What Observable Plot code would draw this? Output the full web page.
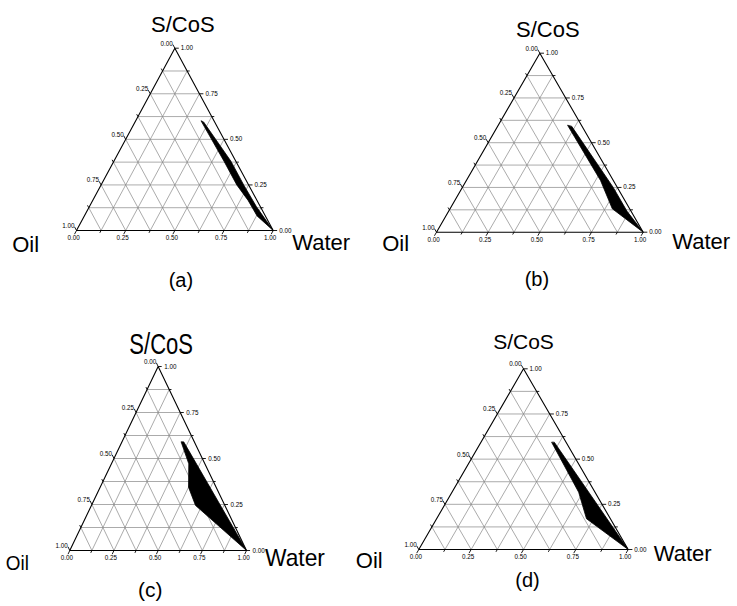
<!DOCTYPE html>
<html>
<head>
<meta charset="utf-8">
<script src="https://cdn.jsdelivr.net/npm/d3@7"></script>
<script src="https://cdn.jsdelivr.net/npm/@observablehq/plot@0.6"></script>
<style>
  html, body { margin: 0; padding: 0; background: #fff; }
  #wrap { position: relative; width: 737px; height: 606px; overflow: hidden; background: #fff;
          font-family: "Liberation Sans", Arial, sans-serif; }
  .panel { position: absolute; }
  .panel svg { overflow: visible; }
</style>
</head>
<body>
<div id="wrap"></div>
<script>
// ---------------- data ----------------
const panelNames = ["(a)", "(b)", "(c)", "(d)"];
const axisTitles = ["S/CoS", "Oil", "Water"];           // top, left, right vertex
const tickValues = [0, 0.25, 0.5, 0.75, 1];
const tickLabels = ["0.00", "0.25", "0.50", "0.75", "1.00"];
const gridFractions = [0.125, 0.25, 0.375, 0.5, 0.625, 0.75, 0.875];

// microemulsion region outlines: water fraction & S/CoS fraction
const waterA = [0.334, 0.56, 0.69, 0.79, 0.878, 1, 0.85, 0.725, 0.595, 0.35];
const scosA  = [0.600, 0.38, 0.25, 0.165, 0.08, 0, 0.13, 0.25, 0.38, 0.594];

const waterB = [0.337, 0.649, 0.785, 1, 0.862, 0.73, 0.36];
const scosB  = [0.596, 0.289, 0.131, 0, 0.118, 0.25, 0.59];

const waterC = [0.336, 0.438, 0.500, 0.589, 1, 0.351];
const scosC  = [0.589, 0.471, 0.344, 0.245, 0, 0.589];

const waterD = [0.339, 0.605, 0.716, 1, 0.352];
const scosD  = [0.592, 0.317, 0.170, 0, 0.592];

// ---------------- layout (pixels) ----------------
const QW = 369, QH = 303;
const layouts = [
  { ox: 0,   oy: 0,   L: 76,    R: 272.7, T: 47.7,  B: 230,
    scos: {dx: 8, dy: -16, size: 22, sx: 1}, oil: {dx: -64.3, dy: 21, size: 22, sx: 1},
    water: {dx: 19, dy: 19, size: 22, sx: 1}, cap: {dx: 6, dy: 56, size: 20} },
  { ox: 368, oy: 0,   L: 436,   R: 642.7, T: 52.7,  B: 231.7,
    scos: {dx: 8, dy: -16, size: 22, sx: 1}, oil: {dx: -54.3, dy: 18.3, size: 22, sx: 1},
    water: {dx: 29, dy: 16.6, size: 22, sx: 1}, cap: {dx: -3, dy: 54, size: 20} },
  { ox: 0,   oy: 303, L: 69.3,  R: 246,   T: 366,   B: 550,
    scos: {dx: 3, dy: -13, size: 29, sx: 0.76}, oil: {dx: -64, dy: 19, size: 21, sx: 0.9},
    water: {dx: 18.5, dy: 15, size: 24, sx: 0.95}, cap: {dx: -8, dy: 46, size: 21} },
  { ox: 368, oy: 303, L: 418.3, R: 627.7, T: 368.3, B: 549,
    scos: {dx: 0, dy: -20, size: 21, sx: 1}, oil: {dx: -63, dy: 18, size: 22, sx: 1},
    water: {dx: 25.6, dy: 11, size: 22, sx: 1}, cap: {dx: 4, dy: 37, size: 20} }
];

const regions = [[waterA, scosA], [waterB, scosB], [waterC, scosC], [waterD, scosD]];

// ternary (water, S/CoS) -> cartesian
const tx = (w, s) => w + s / 2;

function panel(i) {
  const lay = layouts[i];
  const [water, scos] = regions[i];
  const region = water.map((w, k) => ({x: tx(w, scos[k]), y: scos[k]}));
  const outline = [[0, 0], [1, 0], [0, 1], [0, 0]].map(([w, s]) => ({x: tx(w, s), y: s}));

  const grid = [];
  for (const f of gridFractions) {
    grid.push({x1: tx(0, f), y1: f, x2: tx(1 - f, f), y2: f});           // constant S/CoS
    grid.push({x1: tx(f, 0), y1: 0, x2: tx(f, 1 - f), y2: 1 - f});       // constant Water
    grid.push({x1: tx(0, 1 - f), y1: 1 - f, x2: tx(1 - f, 0), y2: 0});   // constant Oil
  }
  const allTicks = d3.range(0, 9).map(k => k / 8);
  const ticks = [];
  for (const v of allTicks) {
    const d = tickValues.includes(v) ? 0.02 : 0.013;
    ticks.push({x1: tx(1 - v, v), y1: v, x2: tx(1 - v, v) + d, y2: v});                  // right: S/CoS
    ticks.push({x1: tx(0, 1 - v), y1: 1 - v, x2: tx(0, 1 - v) - d / 2, y2: 1 - v + d});  // left: Oil
    ticks.push({x1: tx(v, 0), y1: 0, x2: tx(v, 0) - d / 2, y2: -d});                    // bottom: Water
  }

  const tickFont = {fontSize: 6.3, fill: "black"};
  const titleFont = "Liberation Sans, Arial, sans-serif";

  const svg = Plot.plot({
    width: QW, height: QH,
    marginLeft: lay.L - lay.ox, marginRight: lay.ox + QW - lay.R,
    marginTop: lay.T - lay.oy, marginBottom: lay.oy + QH - lay.B,
    x: {domain: [0, 1], axis: null},
    y: {domain: [0, 1], axis: null},
    style: {background: "transparent", overflow: "visible", fontFamily: titleFont},
    marks: [
      Plot.link(grid, {x1: "x1", y1: "y1", x2: "x2", y2: "y2", stroke: "#868686", strokeWidth: 0.7}),
      Plot.line(region, {x: "x", y: "y", curve: "linear-closed", fill: "black", stroke: "black", strokeWidth: 0.8}),
      Plot.line(outline, {x: "x", y: "y", stroke: "black", strokeWidth: 1.1}),
      Plot.link(ticks, {x1: "x1", y1: "y1", x2: "x2", y2: "y2", stroke: "black", strokeWidth: 0.9}),
      // Oil axis (left edge)
      Plot.text(tickValues, {x: v => tx(0, 1 - v), y: v => 1 - v, text: (v, k) => tickLabels[k],
        textAnchor: "end", lineAnchor: "bottom", dx: -2, dy: -2.5, ...tickFont}),
      // S/CoS axis (right edge)
      Plot.text(tickValues, {x: v => tx(1 - v, v), y: v => v, text: (v, k) => tickLabels[k],
        textAnchor: "start", lineAnchor: "middle", dx: 6, ...tickFont}),
      // Water axis (bottom edge)
      Plot.text(tickValues, {x: v => tx(v, 0), y: () => 0, text: (v, k) => tickLabels[k],
        textAnchor: "middle", lineAnchor: "top", dx: -3, dy: 5, ...tickFont}),
      // vertex titles
      Plot.text([axisTitles[0]], {x: () => 0.5, y: () => 1, text: d => d, textAnchor: "middle", lineAnchor: "bottom",
        dx: lay.scos.dx, dy: lay.scos.dy, fontSize: lay.scos.size, fill: "black"}),
      Plot.text([axisTitles[1]], {x: () => 0, y: () => 0, text: d => d, textAnchor: "start", lineAnchor: "bottom",
        dx: lay.oil.dx, dy: lay.oil.dy, fontSize: lay.oil.size, fill: "black"}),
      Plot.text([axisTitles[2]], {x: () => 1, y: () => 0, text: d => d, textAnchor: "start", lineAnchor: "bottom",
        dx: lay.water.dx, dy: lay.water.dy, fontSize: lay.water.size, fill: "black"}),
      Plot.text([panelNames[i]], {x: () => 0.5, y: () => 0, text: d => d, textAnchor: "middle", lineAnchor: "bottom",
        dx: lay.cap.dx, dy: lay.cap.dy, fontSize: lay.cap.size, fill: "black"})
    ]
  });

  // horizontal condensing of the titles where the original is squeezed
  const scaleOf = {[axisTitles[0]]: lay.scos.sx, [axisTitles[1]]: lay.oil.sx, [axisTitles[2]]: lay.water.sx};
  d3.select(svg).selectAll("text").each(function () {
    const sx = scaleOf[this.textContent];
    if (sx !== undefined && sx !== 1) {
      const t = this.getAttribute("transform") || "";
      this.setAttribute("transform", `${t} scale(${sx},1)`);
    }
  });

  const div = document.createElement("div");
  div.className = "panel";
  div.style.left = lay.ox + "px";
  div.style.top = lay.oy + "px";
  div.appendChild(svg);
  document.getElementById("wrap").appendChild(div);
}

for (let i = 0; i < 4; i++) panel(i);
</script>
</body>
</html>
